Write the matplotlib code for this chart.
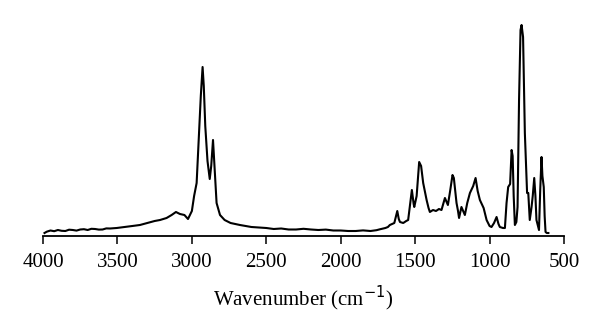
import matplotlib
matplotlib.use("Agg")
import matplotlib.pyplot as plt

# IR spectrum: wavenumber (cm-1) and relative height
wavenumber = [3990, 3975, 3950, 3925, 3900, 3875, 3850, 3825, 3800, 3775,
              3750, 3725, 3700, 3675, 3650, 3625, 3600, 3575, 3550, 3505,
              3450, 3400, 3349, 3300, 3250, 3214, 3170, 3136, 3107, 3080,
              3050, 3026, 3000, 2985, 2968, 2952, 2940, 2928, 2920, 2910,
              2895, 2880, 2870, 2858, 2848, 2834, 2811, 2780, 2740, 2677,
              2600, 2500, 2450, 2400, 2350, 2300, 2250, 2200, 2150, 2100,
              2050, 2000, 1950, 1900, 1850, 1800, 1760, 1737, 1700, 1683,
              1670, 1640, 1620, 1610, 1602, 1580, 1560, 1547, 1535, 1522,
              1510, 1506, 1490, 1473, 1460, 1446, 1435, 1423, 1410, 1401,
              1380, 1360, 1340, 1323, 1300, 1280, 1265, 1249, 1240, 1222,
              1212, 1205, 1189, 1175, 1166, 1150, 1132, 1110, 1094, 1080,
              1065, 1040, 1020, 1000, 987, 970, 953, 940, 931, 910,
              897, 886, 875, 862, 852, 845, 838, 830, 820, 812,
              802, 792, 785, 775, 763, 748, 740, 730, 718, 710,
              700, 692, 685, 675, 668, 660, 651, 645, 636, 630,
              624, 615, 605]
intensity = [3.0, 4.3, 5.5, 4.8, 6.0, 5.2, 5.0, 6.3, 6.0, 5.4,
             6.5, 6.8, 6.0, 7.2, 7.0, 6.4, 6.5, 7.6, 7.5, 8.0,
             9.0, 10.0, 11.0, 13.0, 15.0, 16.0, 18.0, 21.0, 24.0, 22.0,
             21.0, 17.0, 25.0, 40.0, 53.0, 103.0, 140.0, 169.0, 150.0, 110.0,
             75.0, 57.0, 70.0, 96.0, 70.0, 33.0, 21.0, 16.0, 13.0, 11.0,
             9.0, 8.0, 7.0, 7.5, 6.5, 6.5, 7.2, 6.5, 6.0, 6.4,
             5.5, 5.5, 5.0, 5.0, 5.6, 5.0, 5.8, 6.7, 8.0, 9.0,
             11.0, 13.0, 25.0, 17.0, 14.0, 13.0, 15.0, 16.0, 30.0, 46.0,
             32.0, 29.0, 40.0, 74.0, 70.0, 53.0, 45.0, 36.0, 28.0, 24.0,
             26.0, 25.0, 27.0, 26.0, 38.0, 31.0, 45.0, 61.0, 58.0, 33.0,
             25.0, 18.0, 29.0, 24.0, 21.0, 33.0, 43.0, 50.0, 58.0, 45.0,
             36.0, 28.0, 16.0, 10.0, 9.0, 13.0, 19.0, 12.0, 9.0, 8.0,
             8.0, 33.0, 49.0, 52.0, 86.0, 80.0, 40.0, 11.0, 14.0, 29.0,
             136.0, 206.0, 211.0, 199.0, 103.0, 43.0, 43.0, 16.0, 29.0, 40.0,
             58.0, 40.0, 16.0, 10.0, 6.0, 45.0, 79.0, 60.0, 49.0, 20.0,
             4.0, 3.0, 3.0]

x_ticks = [4000, 3500, 3000, 2500, 2000, 1500, 1000, 500]

plt.rcParams['font.family'] = ['Liberation Serif', 'DejaVu Serif']

fig = plt.figure(figsize=(6, 3.2), dpi=100)
ax = fig.add_axes([0.0717, 0.2625, 0.8683, 0.675])

ax.plot(wavenumber, intensity, color='black', lw=1.5)

ax.set_xlim(4000, 500)
ax.set_ylim(0, 216)
ax.set_xticks(x_ticks)
ax.set_yticks([])
for s in ['top', 'right', 'left']:
    ax.spines[s].set_visible(False)
ax.spines['bottom'].set_linewidth(1.3)
ax.tick_params(axis='x', direction='out', length=6, width=1.1, labelsize=15, pad=6)
ax.set_xlabel('Wavenumber (cm$^{-1}$)', fontsize=15, labelpad=9)

fig.savefig('out.png', dpi=100)
